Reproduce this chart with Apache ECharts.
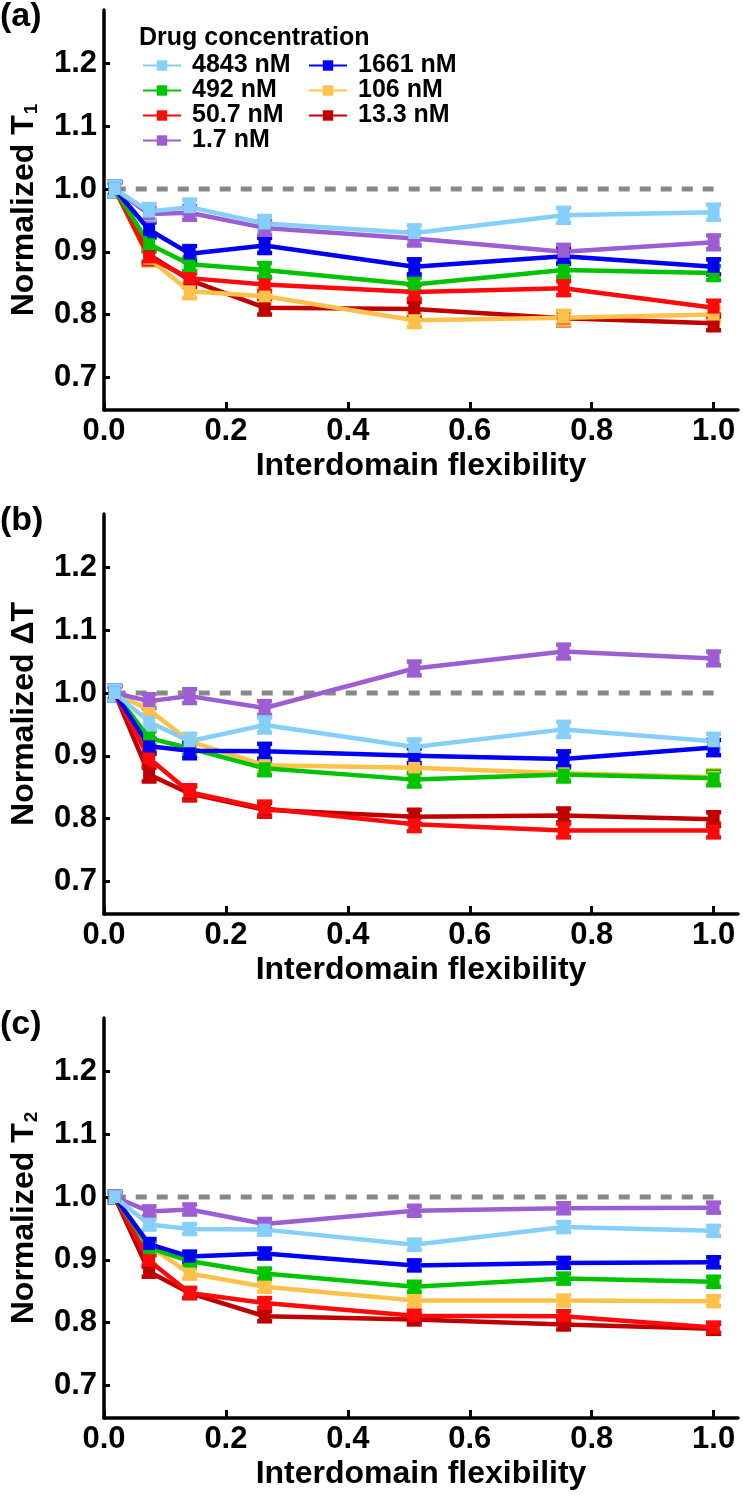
<!DOCTYPE html>
<html>
<head>
<meta charset="utf-8">
<script src="https://cdn.jsdelivr.net/npm/echarts@6/dist/echarts.min.js"></script>
<style>
html,body{margin:0;padding:0;background:#fff;}
#chart{width:743px;height:1498px;}
</style>
</head>
<body>
<div id="chart"></div>
<script>
// ---------- data ----------
const xValues = [0.0176, 0.074, 0.1405, 0.2635, 0.509, 0.754, 1.0];
const seriesNames = ['4843 nM', '1661 nM', '492 nM', '106 nM', '50.7 nM', '13.3 nM', '1.7 nM'];
const seriesColors = ['#86CFFB', '#0000F5', '#00C400', '#FFC14A', '#FF0A0A', '#C00000', '#9C5ED2'];
const panelLetters = ['(a)', '(b)', '(c)'];
const yTickValues = [0.7, 0.8, 0.9, 1.0, 1.1, 1.2];
const xTickValues = [0.0, 0.2, 0.4, 0.6, 0.8, 1.0];
const referenceLine = [[0.0176, 1.0], [1.0, 1.0]];

// Panel (a) Normalized T1
const a4843 = [1.0, 0.964, 0.971, 0.945, 0.930, 0.958, 0.963];
const a1661 = [1.0, 0.935, 0.897, 0.910, 0.876, 0.893, 0.876];
const a492  = [1.0, 0.912, 0.880, 0.871, 0.848, 0.871, 0.866];
const a106  = [1.0, 0.889, 0.837, 0.829, 0.791, 0.795, 0.800];
const a50_7 = [1.0, 0.891, 0.858, 0.848, 0.836, 0.842, 0.811];
const a13_3 = [1.0, 0.895, 0.855, 0.811, 0.809, 0.794, 0.786];
const a1_7  = [1.0, 0.960, 0.962, 0.938, 0.921, 0.900, 0.915];
const aErr  = [0.012, 0.012, 0.011, 0.011, 0.011, 0.011, 0.011];

// Panel (b) Normalized ΔT
const b4843 = [1.0, 0.954, 0.923, 0.949, 0.914, 0.942, 0.923];
const b1661 = [1.0, 0.915, 0.908, 0.907, 0.900, 0.895, 0.913];
const b492  = [1.0, 0.928, 0.912, 0.880, 0.862, 0.870, 0.864];
const b106  = [1.0, 0.973, 0.923, 0.885, 0.881, 0.872, 0.866];
const b50_7 = [1.0, 0.896, 0.842, 0.816, 0.791, 0.781, 0.781];
const b13_3 = [1.0, 0.870, 0.840, 0.814, 0.803, 0.805, 0.799];
const b1_7  = [1.0, 0.987, 0.995, 0.976, 1.039, 1.066, 1.055];
const bErr  = [0.012, 0.012, 0.011, 0.011, 0.011, 0.011, 0.011];

// Panel (c) Normalized T2
const c4843 = [1.0, 0.956, 0.949, 0.948, 0.924, 0.952, 0.946];
const c1661 = [1.0, 0.925, 0.905, 0.910, 0.891, 0.895, 0.896];
const c492  = [1.0, 0.919, 0.898, 0.878, 0.857, 0.870, 0.865];
const c106  = [1.0, 0.922, 0.878, 0.857, 0.835, 0.835, 0.834];
const c50_7 = [1.0, 0.899, 0.847, 0.831, 0.811, 0.810, 0.792];
const c13_3 = [1.0, 0.881, 0.847, 0.810, 0.805, 0.797, 0.790];
const c1_7  = [1.0, 0.977, 0.980, 0.957, 0.978, 0.982, 0.983];
const cErr  = [0.008, 0.008, 0.008, 0.008, 0.008, 0.008, 0.008];

const panels = [
  { name: ['Normalized T', '1'], values: [a4843, a1661, a492, a106, a50_7, a13_3, a1_7], err: aErr },
  { name: ['Normalized ΔT', ''], values: [b4843, b1661, b492, b106, b50_7, b13_3, b1_7], err: bErr },
  { name: ['Normalized T', '2'], values: [c4843, c1661, c492, c106, c50_7, c13_3, c1_7], err: cErr }
];

// ---------- layout ----------
const FONT = '"Liberation Sans", Arial, Helvetica, sans-serif';
const PANEL_STEP = 504;
const GRID_TOP = 10;
const GRID_H = 400;
const drawOrder = [5, 3, 4, 2, 1, 6, 0]; // dark red, orange, red, green, blue, purple, light blue

const grids = [], xAxes = [], yAxes = [], series = [], graphics = [];

panels.forEach((p, i) => {
  grids.push({ left: 96, width: 642, top: GRID_TOP + PANEL_STEP * i, height: GRID_H });
  xAxes.push({
    type: 'value', gridIndex: i, min: 0, max: 1.04,
    name: 'Interdomain flexibility', nameLocation: 'middle', nameGap: 40,
    nameTextStyle: { fontFamily: FONT, fontWeight: 'bold', fontSize: 32, color: '#000' },
    axisLine: { lineStyle: { color: '#000', width: 3.5 } },
    axisTick: { inside: true, length: 8, lineStyle: { color: '#000', width: 3 }, customValues: xTickValues },
    axisLabel: { fontFamily: FONT, fontWeight: 'bold', fontSize: 31, color: '#000', margin: 6,
                 customValues: xTickValues, formatter: v => v.toFixed(1) },
    splitLine: { show: false }
  });
  yAxes.push({
    type: 'value', gridIndex: i, min: 0.648, max: 1.285,
    name: '{n|' + p.name[0] + '}' + (p.name[1] ? '{s|' + p.name[1] + '}' : ''),
    nameLocation: 'middle', nameRotate: 90, nameGap: 63,
    nameTextStyle: {
      color: '#000',
      rich: {
        n: { fontFamily: FONT, fontWeight: 'bold', fontSize: 32, color: '#000', lineHeight: 34 },
        s: { fontFamily: FONT, fontWeight: 'bold', fontSize: 19, color: '#000', lineHeight: 34, verticalAlign: 'bottom', padding: [0, 0, 0, 1] }
      }
    },
    axisLine: { lineStyle: { color: '#000', width: 3.5 } },
    axisTick: { inside: true, length: 6, lineStyle: { color: '#000', width: 3 }, customValues: yTickValues },
    axisLabel: { fontFamily: FONT, fontWeight: 'bold', fontSize: 31, color: '#000', margin: 7,
                 customValues: yTickValues, formatter: v => v.toFixed(1) },
    splitLine: { show: false }
  });

  // dashed reference line at 1.0
  series.push({
    type: 'line', xAxisIndex: i, yAxisIndex: i, data: referenceLine,
    symbol: 'none', silent: true,
    lineStyle: { color: '#888888', width: 5, type: [11, 10] }, z: 1
  });

  drawOrder.forEach(k => {
    const col = seriesColors[k];
    const vals = p.values[k];
    const e = p.err[k];
    series.push({
      type: 'custom', xAxisIndex: i, yAxisIndex: i, z: 2,
      data: vals.map((v, j) => [xValues[j], v, e]),
      encode: { x: 0, y: 1 },
      renderItem: (params, api) => {
        const x = api.value(0), y = api.value(1), er = api.value(2);
        const t = api.coord([x, y + er]);
        const b = api.coord([x, y - er]);
        const hw = 7.5;
        const st = { stroke: col, lineWidth: 4.5 };
        return { type: 'group', children: [
          { type: 'line', shape: { x1: t[0], y1: t[1], x2: b[0], y2: b[1] }, style: st },
          { type: 'line', shape: { x1: t[0] - hw, y1: t[1], x2: t[0] + hw, y2: t[1] }, style: st },
          { type: 'line', shape: { x1: b[0] - hw, y1: b[1], x2: b[0] + hw, y2: b[1] }, style: st }
        ] };
      }
    });
    series.push({
      type: 'line', name: seriesNames[k], xAxisIndex: i, yAxisIndex: i, z: 2,
      data: vals.map((v, j) => [xValues[j], v]),
      symbol: 'rect', symbolSize: 12, showSymbol: true,
      itemStyle: { color: col },
      lineStyle: { color: col, width: 4.5 }
    });
  });

  graphics.push({
    type: 'text', left: 0, top: 0 + PANEL_STEP * i,
    style: { text: panelLetters[i], font: 'bold 34px ' + FONT, fill: '#000' }
  });
});

graphics.push({
  type: 'text', left: 139, top: 26,
  style: { text: 'Drug concentration', font: 'bold 25px ' + FONT, fill: '#000' }
});

const legendCommon = {
  orient: 'vertical', itemWidth: 38, itemHeight: 13, itemGap: 0,
  textStyle: { fontFamily: FONT, fontWeight: 'bold', fontSize: 25, color: '#000', padding: [0, 0, 0, 6] },
  selectedMode: false
};

const option = {
  animation: false,
  backgroundColor: '#fff',
  textStyle: { fontFamily: FONT },
  grid: grids,
  xAxis: xAxes,
  yAxis: yAxes,
  legend: [
    Object.assign({ left: 137, top: 48, data: ['4843 nM', '492 nM', '50.7 nM', '1.7 nM'] }, legendCommon),
    Object.assign({ left: 303, top: 48, data: ['1661 nM', '106 nM', '13.3 nM'] }, legendCommon)
  ],
  graphic: graphics,
  series: series
};

const chart = echarts.init(document.getElementById('chart'), null, { renderer: 'canvas' });
chart.setOption(option);
</script>
</body>
</html>
